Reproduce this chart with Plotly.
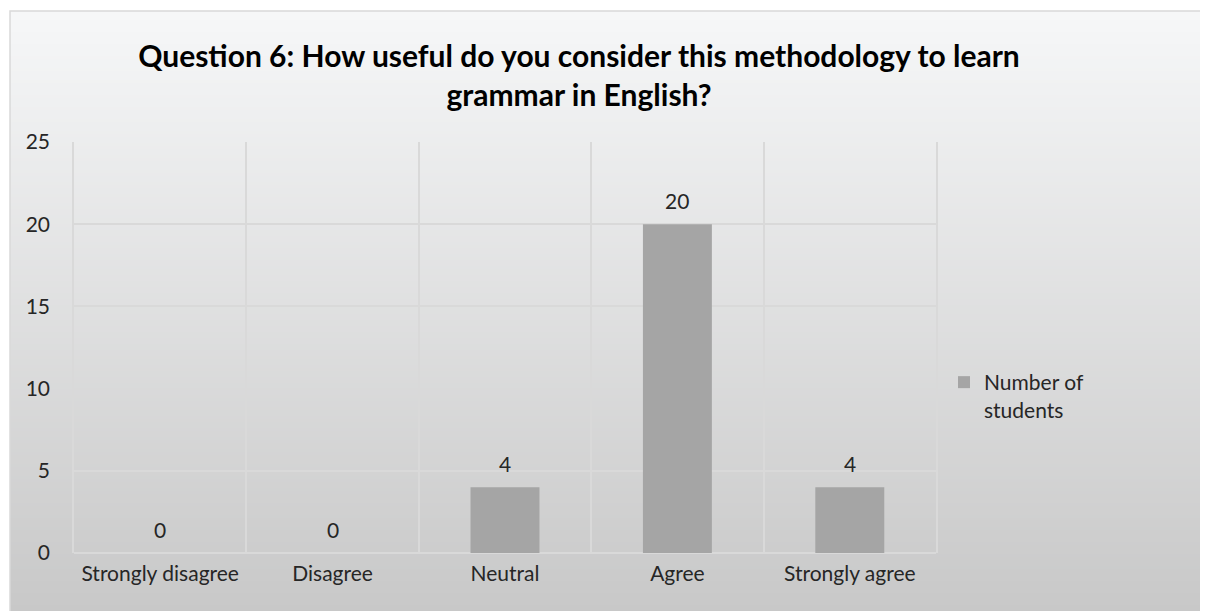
import plotly.graph_objects as go

categories = ["Strongly disagree", "Disagree", "Neutral", "Agree", "Strongly agree"]
students = [0, 0, 4, 20, 4]
y_ticks = [0, 5, 10, 15, 20, 25]

# page body has an 8px margin, so the figure starts at (8, 8)
OFF = 8
W, H = 1208 - OFF, 611 - OFF
L, R, T, B = 74 - OFF, 1208 - 936, 142 - OFF, 611 - 553
pw, ph = W - L - R, H - T - B


def px_x(x):
    # page x -> paper x
    return (x - OFF - L) / pw


def px_y(y):
    # page y -> paper y
    return (H - B - (y - OFF)) / ph


FONT = "Lato"
TXT = "#262626"

fig = go.Figure()
fig.add_trace(
    go.Bar(
        x=categories,
        y=students,
        name="Number of<br>students",
        marker=dict(color="#a5a5a5", line=dict(width=0)),
    )
)

for c, v in zip(categories, students):
    fig.add_annotation(
        x=c, y=v, text=str(v), showarrow=False,
        yanchor="middle", yshift=24,
        font=dict(size=21, color=TXT, family=FONT),
    )

# gradient background made of thin bands
shapes = []
top, bot = 11, 611
c0, c1 = (246, 247, 248), (200, 200, 200)
step = 3
for y in range(top, bot, step):
    t = (y - top) / (bot - top)
    c = tuple(round(a + (b - a) * t) for a, b in zip(c0, c1))
    shapes.append(
        dict(
            type="rect", xref="paper", yref="paper", layer="below",
            x0=px_x(10), x1=px_x(1215), y0=px_y(y), y1=px_y(y + step + 1),
            line=dict(width=0), fillcolor="rgb(%d,%d,%d)" % c,
        )
    )
shapes.append(
    dict(
        type="rect", xref="paper", yref="paper", layer="above",
        x0=px_x(10), x1=px_x(1215), y0=px_y(11), y1=px_y(615),
        line=dict(width=1.5, color="#d9d9d9"), fillcolor="rgba(0,0,0,0)",
    )
)

fig.update_layout(
    width=W,
    height=H,
    margin=dict(l=L, r=R, t=T, b=B),
    paper_bgcolor="white",
    plot_bgcolor="rgba(0,0,0,0)",
    shapes=shapes,
    bargap=0.6,
    font=dict(family=FONT, size=21, color=TXT),
    title=dict(
        text="<b>Question 6: How useful do you consider this methodology to learn<br>grammar in English?</b>",
        x=px_x(579), xref="paper", xanchor="center",
        y=1 - (67 - OFF) / H, yanchor="middle",
        font=dict(size=30, color="#000000", family=FONT),
    ),
    legend=dict(
        x=px_x(944), y=px_y(362), xanchor="left", yanchor="top",
        valign="top",
        bgcolor="rgba(0,0,0,0)", font=dict(size=21, color=TXT),
        itemwidth=30,
    ),
    showlegend=True,
)
fig.update_xaxes(
    type="category",
    tickson="boundaries",
    showgrid=True,
    gridcolor="#d9d9d9",
    gridwidth=1.5,
    ticks="",
    showline=False,
    ticklabelstandoff=6,
    tickfont=dict(size=21, color=TXT),
)
fig.update_yaxes(
    range=[0, 25],
    tickvals=y_ticks,
    showgrid=True,
    gridcolor="#d9d9d9",
    gridwidth=1.5,
    zeroline=True,
    zerolinecolor="#d9d9d9",
    zerolinewidth=1.5,
    showline=True,
    mirror=True,
    linecolor="#d9d9d9",
    linewidth=1.5,
    ticks="",
    ticklabelstandoff=18,
    tickfont=dict(size=21, color=TXT),
)

fig.write_html("out.html")
